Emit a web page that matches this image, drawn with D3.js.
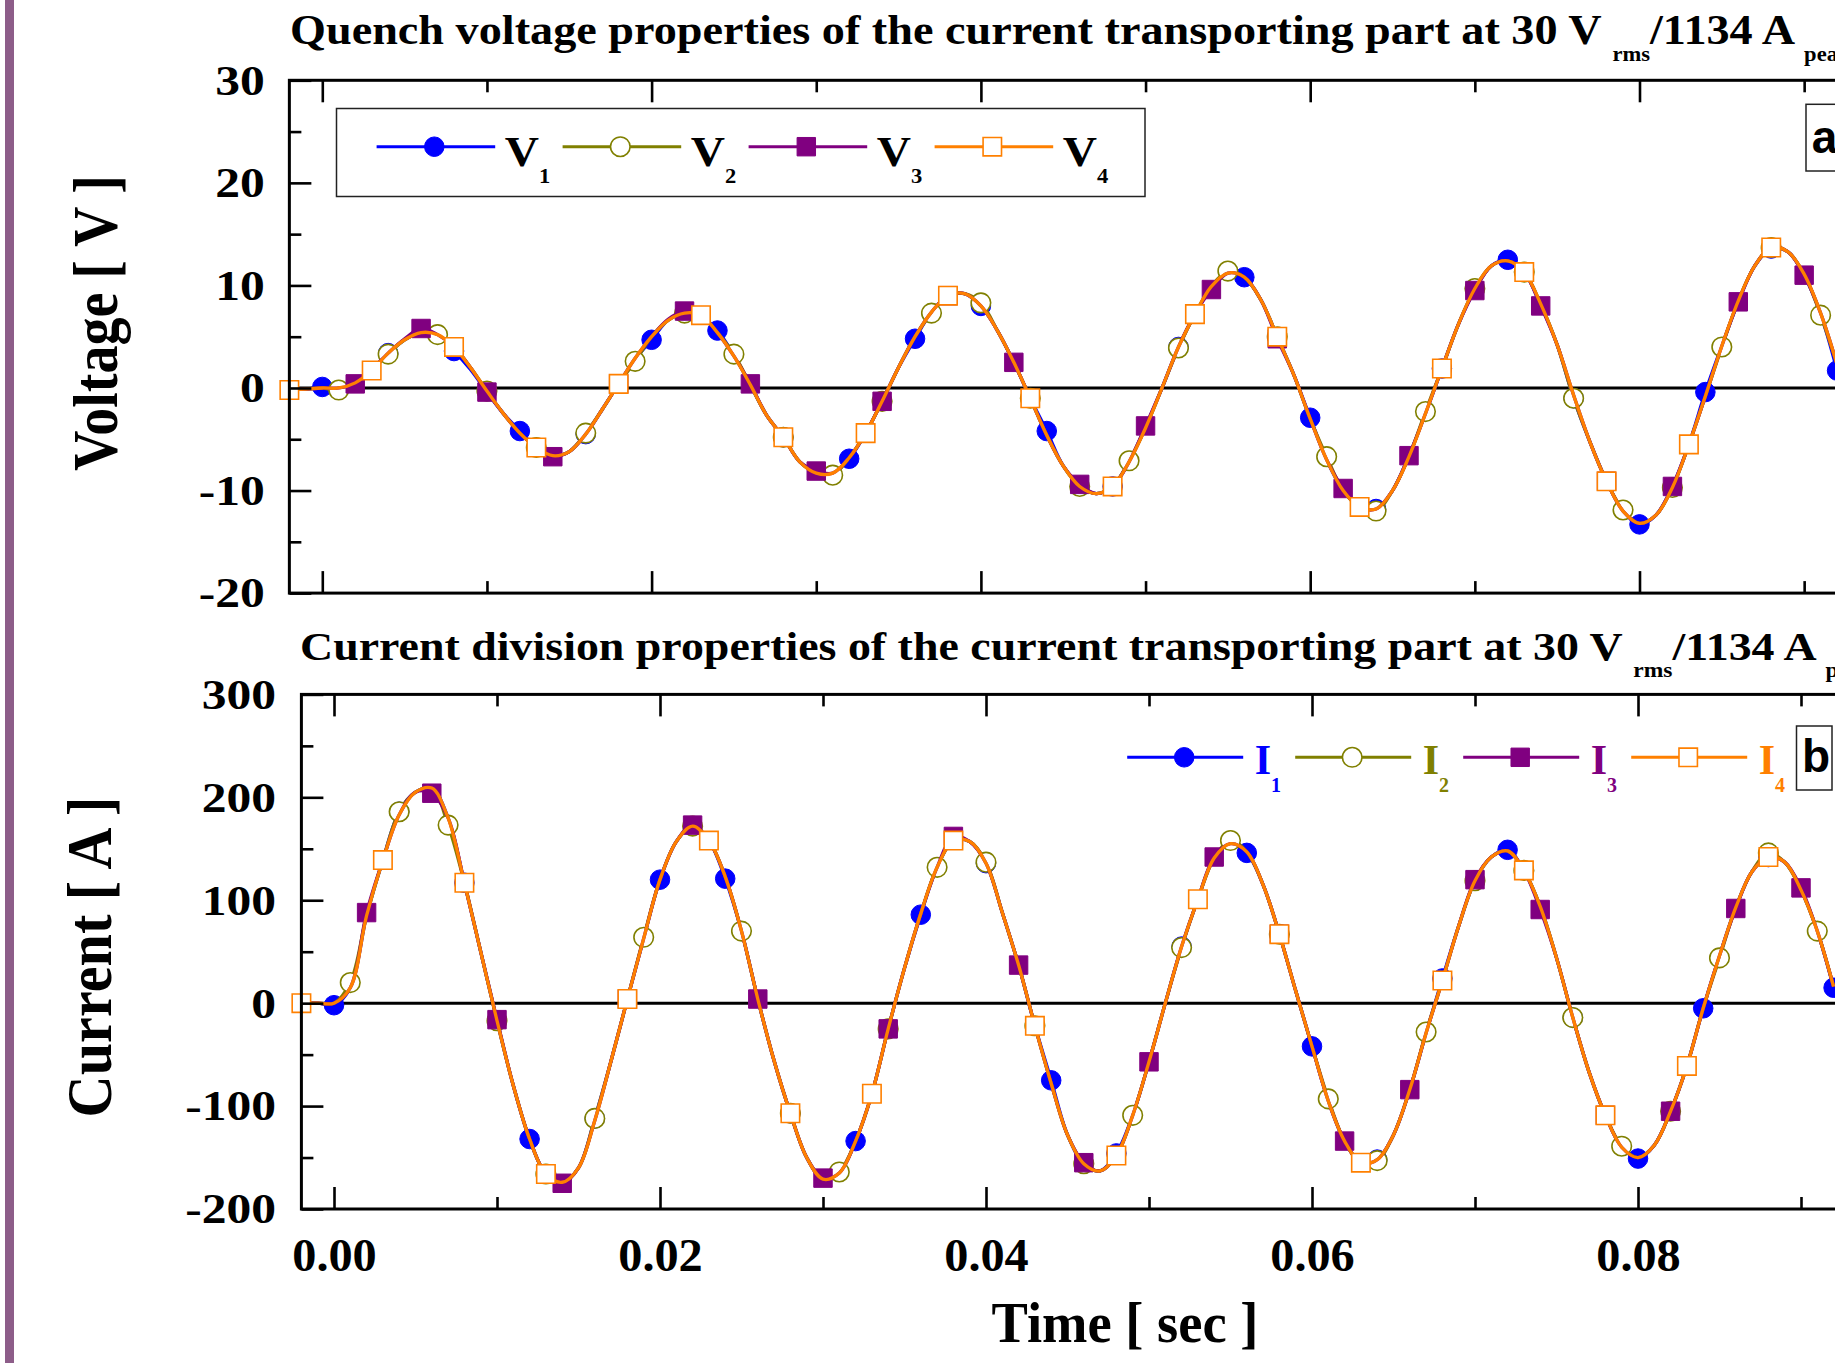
<!DOCTYPE html>
<html>
<head>
<meta charset="utf-8">
<script src="https://cdn.jsdelivr.net/npm/d3@7"></script>
<style>
  body { margin: 0; background: #fff; overflow: hidden; }
  svg { display: block; }
</style>
</head>
<body>
<div id="chart"></div>
<script>
// sample times, one point per ms (markers are drawn on every n-th point)
var timeMs = [-2,-1,0,1,2,3,4,5,6,7,
  8,9,10,11,12,13,14,15,16,17,
  18,19,20,21,22,23,24,25,26,27,
  28,29,30,31,32,33,34,35,36,37,
  38,39,40,41,42,43,44,45,46,47,
  48,49,50,51,52,53,54,55,56,57,
  58,59,60,61,62,63,64,65,66,67,
  68,69,70,71,72,73,74,75,76,77,
  78,79,80,81,82,83,84,85,86,87,
  88,89,90,91,92];

// quench voltages [V]
var V1 = [-0.1,-0.1,0.1,0.0,0.5,1.8,3.4,4.7,5.4,5.1,
  3.6,1.8,-0.4,-2.5,-4.2,-5.8,-6.6,-6.2,-4.5,-2.1,
  0.4,2.8,4.7,6.6,7.3,7.0,5.6,3.2,0.3,-2.7,
  -4.8,-7.2,-8.2,-8.3,-6.9,-4.4,-1.3,2.0,4.8,7.4,
  9.0,9.2,8.0,5.6,2.5,-1.0,-4.2,-7.6,-9.5,-10.3,
  -9.6,-7.2,-3.8,0.0,4.0,7.2,9.8,11.2,10.8,8.6,
  5.0,1.3,-2.9,-7.0,-10.0,-11.6,-11.8,-10.0,-6.6,-2.5,
  1.9,6.2,9.6,11.9,12.5,11.3,8.1,4.2,-1.0,-5.3,
  -9.1,-12.0,-13.3,-12.4,-9.6,-5.5,-0.4,4.1,8.4,11.9,
  13.6,13.3,11.0,7.2,1.7];
var V2 = [-0.1,-0.1,0.0,-0.2,0.5,1.7,3.3,4.7,5.4,5.2,
  4.0,2.0,-0.3,-2.5,-4.4,-5.8,-6.6,-6.2,-4.4,-2.1,
  0.4,2.6,5.0,6.6,7.3,7.1,5.4,3.3,0.3,-2.7,
  -4.8,-7.2,-8.3,-8.5,-6.8,-4.4,-1.3,2.0,5.0,7.3,
  9.0,9.2,8.3,5.6,2.5,-1.0,-4.6,-7.6,-9.6,-10.3,
  -9.6,-7.1,-3.9,0.0,3.9,7.2,9.9,11.4,10.8,8.6,
  5.0,1.3,-3.0,-6.7,-10.0,-11.6,-12.0,-10.0,-6.7,-2.3,
  1.9,6.2,9.7,11.9,12.4,11.3,8.2,4.2,-1.0,-5.3,
  -9.1,-11.9,-13.2,-12.4,-9.7,-5.5,-0.8,4.0,8.5,11.9,
  13.7,13.3,11.1,7.1,2.3];
var V3 = [-0.1,-0.1,0.0,0.0,0.4,1.8,3.4,4.8,5.8,5.2,
  4.0,2.0,-0.4,-2.5,-4.4,-5.8,-6.7,-6.2,-4.5,-2.1,
  0.4,2.9,5.0,6.7,7.5,7.1,5.4,3.1,0.4,-2.7,
  -4.8,-7.2,-8.1,-8.3,-6.8,-4.4,-1.3,2.0,5.0,7.4,
  9.0,9.2,8.0,5.6,2.5,-1.0,-4.6,-7.6,-9.4,-10.3,
  -9.6,-7.2,-3.7,0.0,4.0,7.2,9.6,11.2,10.8,8.6,
  4.8,1.3,-3.0,-7.0,-9.8,-11.6,-11.8,-10.0,-6.6,-2.5,
  1.9,6.2,9.5,11.9,12.4,11.3,8.0,4.2,-0.7,-5.3,
  -9.1,-12.0,-13.2,-12.4,-9.6,-5.5,-0.8,4.1,8.4,11.9,
  13.7,13.3,11.0,7.3,2.3];
var V4 = [-0.2,-0.1,0.0,0.0,0.5,1.7,3.4,4.7,5.4,5.2,
  4.0,2.0,-0.3,-2.5,-4.4,-5.8,-6.6,-6.2,-4.5,-2.1,
  0.4,2.9,5.0,6.6,7.3,7.1,5.4,3.1,0.3,-2.7,
  -4.8,-7.2,-8.3,-8.3,-6.8,-4.4,-1.3,2.0,5.0,7.4,
  9.0,9.2,8.0,5.6,2.5,-1.0,-4.6,-7.6,-9.6,-10.3,
  -9.6,-7.2,-3.9,0.0,4.0,7.2,9.9,11.2,10.8,8.6,
  5.0,1.3,-3.0,-7.0,-10.0,-11.6,-11.8,-10.0,-6.7,-2.5,
  1.9,6.2,9.7,11.9,12.4,11.3,8.2,4.2,-0.7,-5.3,
  -9.1,-12.0,-13.2,-12.4,-9.7,-5.5,-0.8,4.1,8.5,11.9,
  13.7,13.3,11.1,7.3,2.3];

// divided currents [A]
var I1 = [0,0,-2,15,85,139,186,205,209,180,
  117,50,-17,-80,-132,-166,-174,-160,-112,-56,
  4,63,120,157,172,158,121,70,4,-56,
  -107,-150,-171,-165,-134,-88,-25,34,86,132,
  158,157,136,88,37,-22,-75,-128,-156,-163,
  -146,-109,-57,0,55,101,141,155,146,115,
  67,12,-42,-95,-134,-155,-152,-128,-84,-29,
  24,75,119,142,149,129,94,44,-14,-67,
  -109,-140,-151,-138,-105,-61,-5,46,93,128,
  142,137,110,70,15];
var I2 = [0,0,0,20,85,139,186,205,209,173,
  117,50,-17,-80,-132,-166,-174,-160,-112,-56,
  4,64,120,157,172,158,123,70,4,-56,
  -107,-150,-171,-164,-134,-88,-25,34,87,132,
  158,157,137,88,37,-22,-78,-128,-156,-163,
  -148,-109,-57,0,54,101,141,158,147,115,
  67,12,-42,-93,-134,-155,-153,-128,-84,-28,
  22,75,119,142,148,129,94,44,-14,-67,
  -109,-139,-150,-138,-105,-61,-5,44,93,128,
  146,137,110,70,16];
var I3 = [0,0,0,15,88,139,183,205,204,180,
  117,50,-16,-80,-132,-166,-175,-160,-114,-56,
  4,63,120,157,173,158,123,70,4,-56,
  -107,-150,-170,-165,-134,-88,-25,34,87,132,
  162,157,136,88,37,-22,-78,-128,-155,-163,
  -148,-109,-57,0,55,101,142,155,147,115,
  67,12,-42,-95,-134,-155,-152,-128,-84,-29,
  22,75,120,142,148,129,91,44,-14,-67,
  -109,-140,-150,-138,-105,-61,-5,46,92,128,
  142,137,112,70,16];
var I4 = [0,0,0,15,85,139,183,205,209,180,
  117,50,-17,-80,-132,-166,-174,-160,-114,-56,
  4,63,120,157,172,158,123,70,4,-56,
  -107,-150,-171,-165,-134,-88,-25,34,87,132,
  158,157,136,88,37,-22,-78,-128,-156,-163,
  -148,-109,-57,0,55,101,141,155,147,115,
  67,12,-42,-95,-134,-155,-152,-128,-84,-29,
  22,75,119,142,148,129,94,44,-14,-67,
  -109,-140,-150,-138,-105,-61,-5,46,93,128,
  142,137,110,70,16];

// axes
var timeDomainMs = [-2, 102];
var timeTicksMs = [0, 20, 40, 60, 80, 100];
var timeMinorMs = [10, 30, 50, 70, 90];
var voltTicks = [-20, -10, 0, 10, 20, 30];
var voltMinor = [-15, -5, 5, 15, 25];
var currTicks = [-200, -100, 0, 100, 200, 300];
var currMinor = [-150, -50, 50, 150, 250];

var SERIF = "'Liberation Serif', 'Times New Roman', serif";
var SANS = "'Liberation Sans', Arial, sans-serif";

var W = 1835, H = 1363;
var svg = d3.select("#chart").append("svg")
    .attr("width", W)
    .attr("height", H);

svg.append("rect").attr("width", W).attr("height", H).attr("fill", "#fff");
// purple strip on the left margin of the page
svg.append("rect").attr("x", 5).attr("y", 0).attr("width", 9).attr("height", H).attr("fill", "#8d5d89");

var styles = [
  {color: "#0000ff", shape: "circle", filled: true,  skip: 4, first: 2},
  {color: "#808000", shape: "circle", filled: false, skip: 3, first: 3},
  {color: "#800080", shape: "square", filled: true,  skip: 4, first: 4},
  {color: "#ff8000", shape: "square", filled: false, skip: 5, first: 0}
];

var panels = [
  {
    x0: 322.3, pxPerMs: 16.465, top: 80.3, bottom: 593.1,
    yDomain: [-20, 30], yTicks: voltTicks, yMinor: voltMinor,
    labelGap: 24.5, xLabels: false,
    names: ["V", "V", "V", "V"], data: [V1, V2, V3, V4]
  },
  {
    x0: 334, pxPerMs: 16.3, top: 694.4, bottom: 1209,
    yDomain: [-200, 300], yTicks: currTicks, yMinor: currMinor,
    labelGap: 25.4, xLabels: true,
    names: ["I", "I", "I", "I"], data: [I1, I2, I3, I4]
  }
];

function symbolFor(st) {
  return d3.symbol()
    .type(st.shape == "circle" ? d3.symbolCircle : d3.symbolSquare)
    .size(st.shape == "circle" ? 300 : 340);
}

function drawMarks(g, pts, st) {
  g.selectAll(null)
    .data(pts)
    .enter().append("path")
    .attr("d", symbolFor(st))
    .attr("transform", function(d) { return "translate(" + d[0] + "," + d[1] + ")"; })
    .attr("fill", st.filled ? st.color : "#fff")
    .attr("stroke", st.color)
    .attr("stroke-width", st.filled ? 1 : 1.6);
}

function drawPanel(p) {
  var g = svg.append("g");

  var x = d3.scaleLinear()
      .domain(timeDomainMs)
      .range(timeDomainMs.map(function(t) { return p.x0 + t * p.pxPerMs; }));
  var y = d3.scaleLinear()
      .domain(p.yDomain)
      .range([p.bottom, p.top]);

  var xl = x(timeDomainMs[0]), xr = x(timeDomainMs[1]);

  // zero line
  g.append("line")
    .attr("x1", xl).attr("x2", xr)
    .attr("y1", y(0)).attr("y2", y(0))
    .attr("stroke", "#000").attr("stroke-width", 3);

  var line = d3.line()
      .x(function(d) { return x(d.t); })
      .y(function(d) { return y(d.v); })
      .curve(d3.curveCatmullRom.alpha(0.5));

  p.data.forEach(function(values, k) {
    var st = styles[k];
    var pts = timeMs.map(function(t, i) { return {t: t, v: values[i]}; });
    g.append("path")
      .datum(pts)
      .attr("d", line)
      .attr("fill", "none")
      .attr("stroke", st.color)
      .attr("stroke-width", 3.3)
      .attr("stroke-linejoin", "round");
    var marks = pts.filter(function(d, i) { return i >= st.first && (i - st.first) % st.skip == 0; })
        .map(function(d) { return [x(d.t), y(d.v)]; });
    drawMarks(g, marks, st);
  });

  // ticks, all pointing inwards
  function ticks(axis, tr, vals, len) {
    g.append("g")
      .attr("transform", tr)
      .call(axis.tickValues(vals).tickSize(-len).tickFormat(""))
      .call(function(a) { a.select(".domain").remove(); })
      .selectAll("line").attr("stroke", "#000").attr("stroke-width", 2.6);
  }
  ticks(d3.axisBottom(x), "translate(0," + p.bottom + ")", timeTicksMs, 22);
  ticks(d3.axisBottom(x), "translate(0," + p.bottom + ")", timeMinorMs, 12);
  ticks(d3.axisTop(x), "translate(0," + p.top + ")", timeTicksMs, 22);
  ticks(d3.axisTop(x), "translate(0," + p.top + ")", timeMinorMs, 12);
  ticks(d3.axisLeft(y), "translate(" + xl + ",0)", p.yTicks, 22);
  ticks(d3.axisLeft(y), "translate(" + xl + ",0)", p.yMinor, 12);

  // frame
  g.append("rect")
    .attr("x", xl).attr("y", p.top)
    .attr("width", xr - xl).attr("height", p.bottom - p.top)
    .attr("fill", "none").attr("stroke", "#000").attr("stroke-width", 3);

  // y tick labels (plain hyphen for negatives, as in the original)
  var sy = 1.18;
  var ya = g.append("g")
      .attr("transform", "translate(" + xl + ",0)")
      .call(d3.axisLeft(y).tickValues(p.yTicks).tickSize(0).tickPadding(p.labelGap)
        .tickFormat(function(d) { return String(d); }))
      .call(function(a) { a.select(".domain").remove(); })
      .attr("font-family", SERIF).attr("font-size", 42).attr("font-weight", "bold");
  ya.selectAll("text")
    .attr("fill", "#000")
    .attr("x", -p.labelGap / sy)
    .attr("dy", "0.33em")
    .attr("transform", "scale(" + sy + ",1)");

  if (p.xLabels) {
    // only the labels that fall inside the picture
    var shown = timeTicksMs.filter(function(t) { return x(t) < W; });
    var xa = g.append("g")
        .attr("transform", "translate(0," + p.bottom + ")")
        .call(d3.axisBottom(x).tickValues(shown).tickSize(0).tickPadding(0)
          .tickFormat(function(d) { return (d / 1000).toFixed(2); }))
        .call(function(a) { a.select(".domain").remove(); })
        .attr("font-family", SERIF).attr("font-size", 46).attr("font-weight", "bold");
    xa.selectAll("text")
      .attr("fill", "#000")
      .attr("y", 62)
      .attr("dy", null)
      .attr("transform", "scale(1.05,1)");
  }
  return {x: x, y: y};
}

panels.forEach(drawPanel);

// titles with subscripts
function title(x, y, size, sx, main) {
  var t = svg.append("text")
      .attr("transform", "translate(" + x + "," + y + ") scale(" + sx + ",1)")
      .attr("font-family", SERIF).attr("font-weight", "bold").attr("fill", "#000");
  t.append("tspan").attr("font-size", size).text(main + " at 30 V ");
  t.append("tspan").attr("font-size", 21).attr("dy", 17).text("rms");
  t.append("tspan").attr("font-size", size).attr("dy", -17).text("/1134 A ");
  t.append("tspan").attr("font-size", 21).attr("dy", 17).text("peak");
}
title(290, 44, 43, 1.075, "Quench voltage properties of the current transporting part");
title(300, 660, 41, 1.12, "Current division properties of the current transporting part");

// axis titles
function rotTitle(x, y, str, s) {
  svg.append("text")
    .attr("transform", "translate(" + x + "," + y + ") rotate(-90) scale(" + s + ",1.12)")
    .attr("text-anchor", "middle")
    .attr("font-family", SERIF).attr("font-weight", "bold").attr("font-size", 56)
    .attr("fill", "#000")
    .text(str);
}
rotTitle(117, 323, "Voltage [ V ]", 1.0);
rotTitle(111, 957, "Current [ A ]", 1.04);

svg.append("text")
  .attr("transform", "translate(1125,1342) scale(0.94,1)")
  .attr("text-anchor", "middle")
  .attr("font-family", SERIF).attr("font-weight", "bold").attr("font-size", 58)
  .attr("fill", "#000")
  .text("Time [ sec ]");

// legends
function legend(o, names) {
  var g = svg.append("g");
  if (o.box) {
    g.append("rect")
      .attr("x", o.box[0]).attr("y", o.box[1])
      .attr("width", o.box[2]).attr("height", o.box[3])
      .attr("fill", "#fff").attr("stroke", "#222").attr("stroke-width", 1.5);
  }
  styles.forEach(function(st, k) {
    var lx = o.x0 + k * o.step;
    g.append("line")
      .attr("x1", lx).attr("x2", lx + o.lineLen)
      .attr("y1", o.y).attr("y2", o.y)
      .attr("stroke", st.color).attr("stroke-width", 3);
    drawMarks(g, [[lx + o.markAt, o.y]], st);
    var t = g.append("text")
        .attr("transform", "translate(" + (lx + o.textAt) + "," + o.baseline + ") scale(" + o.sx + ",1)")
        .attr("font-family", SERIF).attr("font-weight", "bold")
        .attr("fill", o.colored ? st.color : "#000");
    t.append("tspan").attr("font-size", 42).text(names[k]);
    t.append("tspan").attr("font-size", 20).attr("dy", o.subDy).text(k + 1);
  });
}

legend({box: [336.5, 108.5, 808.5, 88], x0: 376.6, step: 186, y: 146.7, lineLen: 118.6,
        markAt: 57.7, textAt: 128.1, baseline: 166, sx: 1.13, subDy: 17, colored: false},
       panels[0].names);
legend({x0: 1127.2, step: 168, y: 757.3, lineLen: 116,
        markAt: 57, textAt: 127.5, baseline: 774, sx: 1.0, subDy: 18, colored: true},
       panels[1].names);

// panel letters
function panelTag(bx, by, bw, bh, tx, ty, s) {
  svg.append("rect").attr("x", bx).attr("y", by).attr("width", bw).attr("height", bh)
    .attr("fill", "#fff").attr("stroke", "#222").attr("stroke-width", 1.5);
  svg.append("text").attr("x", tx).attr("y", ty)
    .attr("font-family", SANS).attr("font-weight", "bold").attr("font-size", 46)
    .attr("fill", "#000").text(s);
}
panelTag(1806, 104.3, 60, 66.7, 1811.7, 153.3, "a");
panelTag(1796.5, 726, 35.5, 64, 1802, 772, "b");
</script>
</body>
</html>
